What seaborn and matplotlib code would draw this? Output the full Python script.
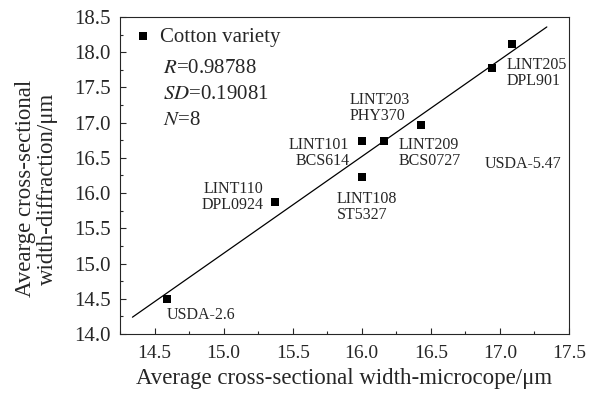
import numpy as np
import pandas as pd
import seaborn as sns
import matplotlib.pyplot as plt
from matplotlib.ticker import MultipleLocator

# Values
varieties = ["USDA-2.6", "LINT110\nDPL0924", "LINT101\nBCS614", "LINT203\nPHY370",
             "LINT108\nST5327", "LINT209\nBCS0727", "LINT205\nDPL901", "USDA-5.47"]
microscope = [14.59, 15.37, 16.00, 16.16, 16.00, 16.43, 16.94, 17.09]
diffraction = [14.50, 15.87, 16.74, 16.74, 16.23, 16.97, 17.77, 18.12]

# label placement: offset in points from the point, and horizontal alignment
label_offsets = [(0, -5.8), (-8, 15), (-9, 3), (-25, 35), (-18, -10.3), (-16.5, -8.6), (11, 8), (-20, -80.6)]
label_ha = ["left", "right", "right", "left", "left", "left", "left", "left"]

stats_text = ["$R$=0.98788", "$SD$=0.19081", "$N$=8"]

sns.set_style("ticks")
plt.rcParams["font.family"] = ["Liberation Serif", "DejaVu Serif"]
plt.rcParams["mathtext.fontset"] = "stix"
plt.rcParams["xtick.direction"] = "in"
plt.rcParams["ytick.direction"] = "in"

df = pd.DataFrame({"x": microscope, "y": diffraction, "name": varieties})

fig = plt.figure(figsize=(5.93, 3.93), dpi=100)
ax = fig.add_axes([0.2024, 0.150, 0.757, 0.807])

# linear fit, drawn a quarter unit beyond the data on each side
slope, intercept = np.polyfit(df["x"], df["y"], 1)
fit_x = np.array([df["x"].min() - 0.25, df["x"].max() + 0.25])
sns.lineplot(x=fit_x, y=slope * fit_x + intercept, color="black", linewidth=0.9, ax=ax)

sns.scatterplot(data=df, x="x", y="y", marker="s", s=28, color="black",
                edgecolor="black", linewidth=0, label="Cotton variety", ax=ax, zorder=3)

for (_, row), off, ha in zip(df.iterrows(), label_offsets, label_ha):
    ax.annotate(row["name"], (row["x"], row["y"]), xytext=off, textcoords="offset points",
                ha=ha, va="top", fontsize=11.5, linespacing=1.0)

leg = ax.legend(loc="upper left", frameon=False, fontsize=15, handletextpad=0.2,
                borderaxespad=0.2, handlelength=1.2, borderpad=0.3)
for i, s in enumerate(stats_text):
    ax.text(0.095, 0.837 - i * 0.082, s, transform=ax.transAxes, fontsize=15, va="center")

ax.set_xlim(14.25, 17.5)
ax.set_ylim(14.0, 18.5)
ax.xaxis.set_major_locator(MultipleLocator(0.5))
ax.xaxis.set_minor_locator(MultipleLocator(0.25))
ax.yaxis.set_major_locator(MultipleLocator(0.5))
ax.yaxis.set_minor_locator(MultipleLocator(0.25))
ax.xaxis.set_major_formatter(plt.FormatStrFormatter("%.1f"))
ax.yaxis.set_major_formatter(plt.FormatStrFormatter("%.1f"))
ax.tick_params(which="major", length=4, width=0.8, top=False, right=False)
ax.tick_params(which="minor", length=2.5, width=0.8, top=False, right=False)
ax.tick_params(axis="x", which="major", labelsize=14, pad=8)
ax.tick_params(axis="y", which="major", labelsize=15, pad=7)
ax.set_xticks([t for t in np.arange(14.5, 17.51, 0.5)])
for sp in ax.spines.values():
    sp.set_linewidth(0.8)
    sp.set_visible(True)

ax.set_xlabel("Average cross-sectional width-microcope/μm", fontsize=16.5, labelpad=4)
ax.set_ylabel("Avearge cross-sectional\nwidth-diffraction/μm", fontsize=16.5, linespacing=1.05)
ax.yaxis.set_label_coords(-0.138, 0.459)

fig.savefig("out.png", dpi=100)
